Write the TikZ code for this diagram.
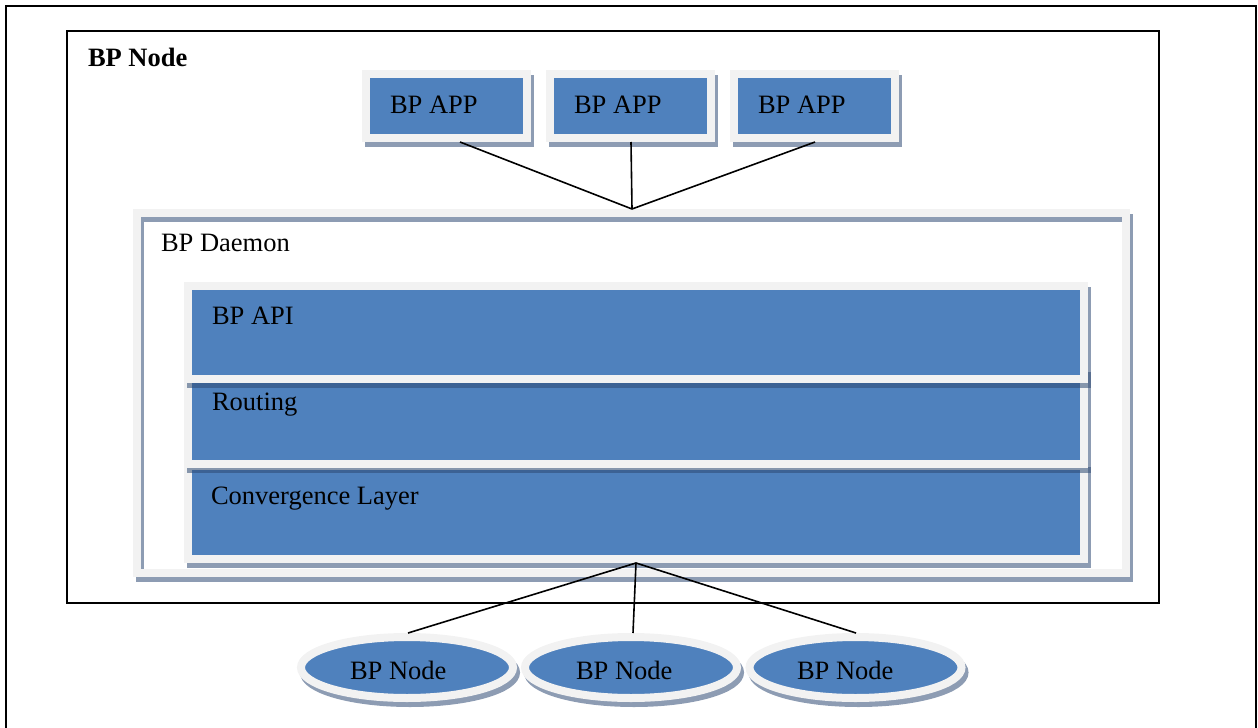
\documentclass[tikz,border=0pt]{standalone}
\usepackage{fontspec}
\setmainfont{Liberation Serif}
\usetikzlibrary{shapes.geometric}

\definecolor{layerblue}{RGB}{79,129,189}
\definecolor{rimgray}{RGB}{242,242,242}
\definecolor{shadowgray}{RGB}{141,156,179}
\definecolor{shadowink}{RGB}{44,72,114}

\newcommand\diagsize{\fontsize{26.5pt}{32pt}\selectfont}

\begin{document}
\begin{tikzpicture}[x=1pt,y=-1pt,
  txt/.style={font=\diagsize, anchor=base west, inner sep=0pt, outer sep=0pt},
  frameline/.style={line width=2pt, line join=miter},
  wire/.style={line width=1.6pt},
  dropshade/.style={preaction={draw=shadowgray, fill=shadowgray,
      transform canvas={shift={(3pt,-5pt)}}}},
  appbox/.style={rectangle, draw=rimgray, fill=layerblue, line width=8pt,
      minimum width=161pt, minimum height=64pt, inner sep=0pt, outer sep=0pt,
      dropshade},
  daemonbox/.style={rectangle, draw=rimgray, line width=8pt,
      minimum width=989pt, minimum height=360pt, inner sep=0pt, outer sep=0pt,
      preaction={draw=shadowgray, transform canvas={shift={(3pt,-5pt)}}}},
  layerbox/.style={rectangle, draw=rimgray, fill=layerblue, line width=8pt,
      minimum width=896pt, minimum height=93pt, inner sep=0pt, outer sep=0pt},
  layershade/.style={fill=shadowink, fill opacity=0.54},
  peer/.style={ellipse, draw=rimgray, fill=layerblue, line width=8pt,
      minimum width=212pt, minimum height=61pt, inner sep=0pt, outer sep=0pt,
      dropshade},
]
\useasboundingbox (0,0) rectangle (1258,728);

% page frame and node frame
\draw[frameline] (6,728) -- (6,6) -- (1256,6) -- (1256,728);
\draw[frameline] (67,30.5) rectangle (1159,603);
\node[txt, font=\diagsize\bfseries] (title) at (88,66) {BP Node};

% applications
\node[appbox] (app1) at (446.5,106) {};
\node[appbox] (app2) at (630.5,106) {};
\node[appbox] (app3) at (814.5,106) {};
\node[txt] (app1text) at (390,113) {BP APP};
\node[txt] (app2text) at (574,113) {BP APP};
\node[txt] (app3text) at (758,113) {BP APP};

% daemon frame
\node[daemonbox] (daemon) at (631.5,393) {};
\node[txt] (daemontext) at (161,251) {BP Daemon};

% protocol layers, lowest first so each shadow falls on the one below
\fill[layershade] (187,467) rectangle (1091,568);
\node[layerbox] (conv) at (636,512.5) {};
\fill[layershade] (187,372) rectangle (1091,473);
\node[layerbox] (routing) at (636,417.5) {};
\fill[layershade] (187,287) rectangle (1091,388);
\node[layerbox] (api) at (636,332.5) {};
\node[txt] (apitext) at (212,324) {BP API};
\node[txt] (routingtext) at (212,410) {Routing};
\node[txt] (convtext) at (211,504) {Convergence Layer};

% neighbouring nodes
\node[peer] (peer1) at (407,667.5) {};
\node[peer] (peer2) at (631,667.5) {};
\node[peer] (peer3) at (855.5,667.5) {};
\node[txt] (peer1text) at (350,679) {BP Node};
\node[txt] (peer2text) at (576,679) {BP Node};
\node[txt] (peer3text) at (797,679) {BP Node};

% connectors
\coordinate (apextop) at ([shift={(0.5pt,4pt)}]daemon.north);
\coordinate (apexbottom) at ([yshift=-4pt]conv.south);
\draw[wire] ([shift={(13.5pt,-4pt)}]app1.south) -- (apextop);
\draw[wire] ([shift={(0.5pt,-4pt)}]app2.south) -- (apextop);
\draw[wire] ([shift={(0.5pt,-4pt)}]app3.south) -- (apextop);
\draw[wire] (apexbottom) -- ([shift={(1pt,4pt)}]peer1.north);
\draw[wire] (apexbottom) -- ([shift={(2pt,4pt)}]peer2.north);
\draw[wire] (apexbottom) -- ([shift={(0.5pt,4pt)}]peer3.north);
\end{tikzpicture}
\end{document}
